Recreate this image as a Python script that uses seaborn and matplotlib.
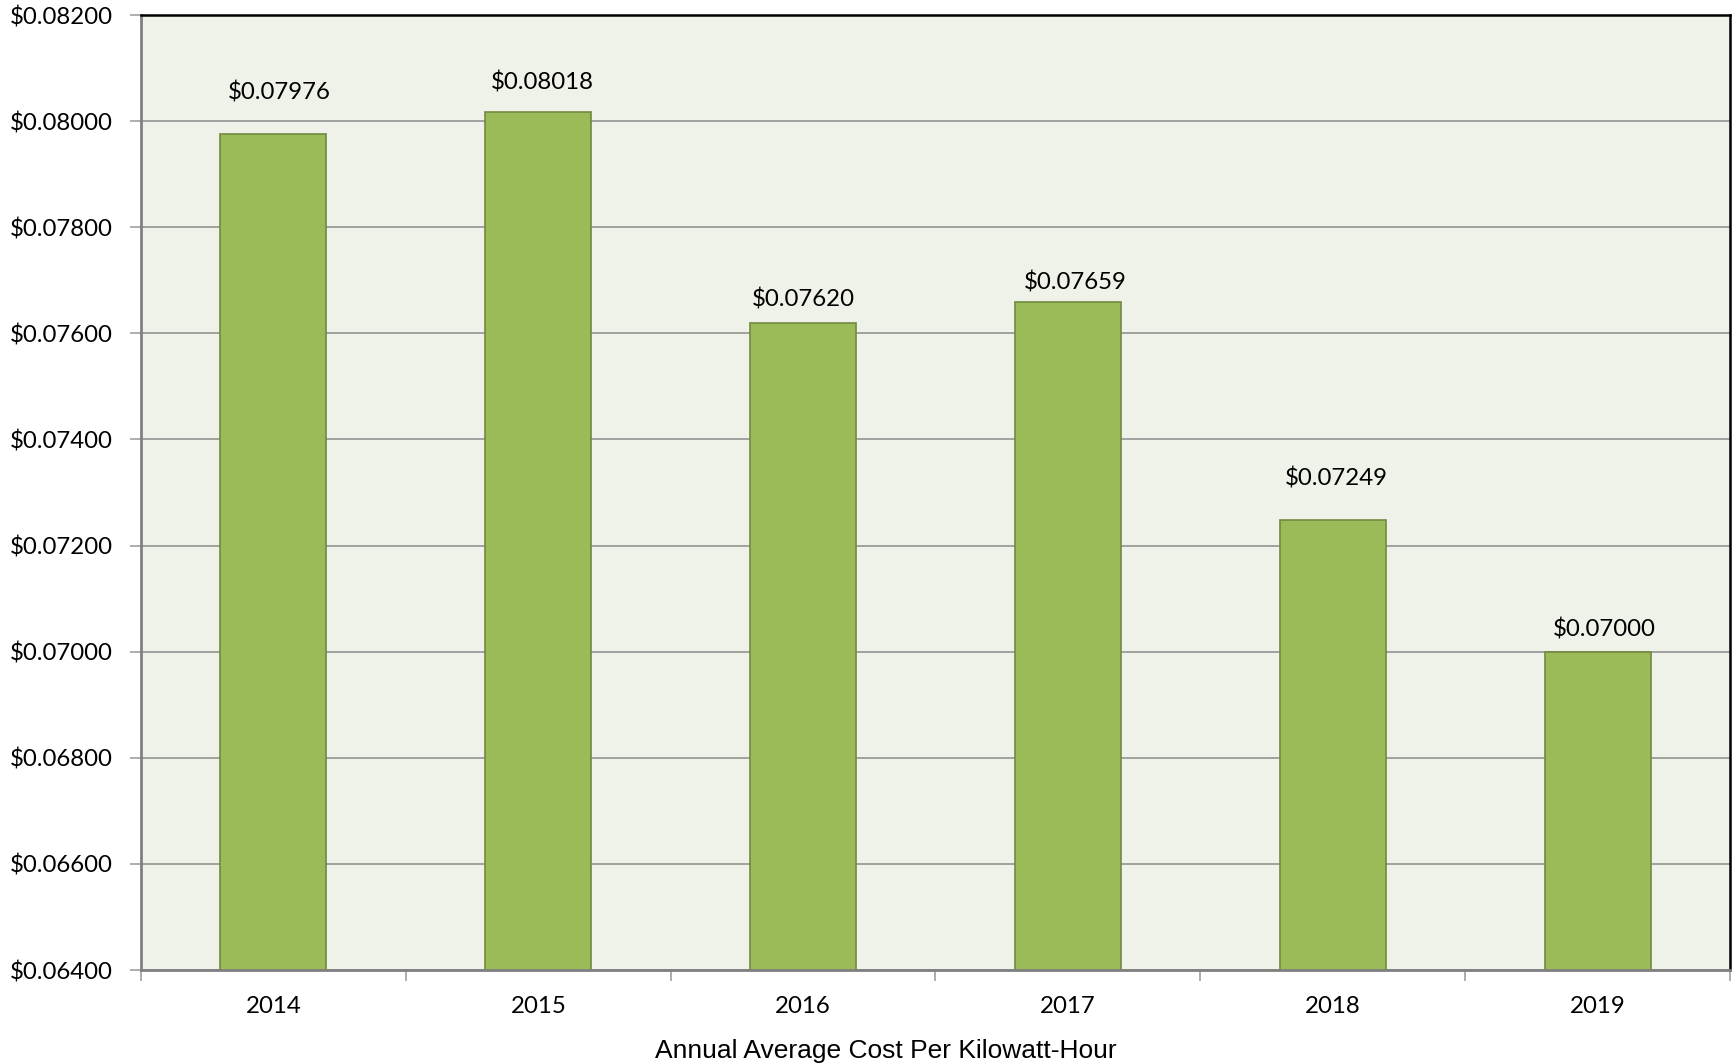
import matplotlib
matplotlib.use("Agg")
import matplotlib.pyplot as plt
import seaborn as sns
import numpy as np
from matplotlib.ticker import FixedLocator, FuncFormatter

# Data
years = ["2014", "2015", "2016", "2017", "2018", "2019"]
cost_per_kwh = [0.07976, 0.08018, 0.07620, 0.07659, 0.07249, 0.07000]
y_ticks = [0.064, 0.066, 0.068, 0.070, 0.072, 0.074, 0.076, 0.078, 0.080, 0.082]

# label nudges (points) -- labels were hand placed in the original
label_dx = [4, 3, 0, 5, 2.5, 5]
label_dy = [22, 12.7, 8.7, 6.3, 21.4, 7.9]

sns.set_theme(style="white")
plt.rcParams["font.family"] = ["Lato", "DejaVu Sans"]
plt.rcParams["text.color"] = "black"

fig = plt.figure(figsize=(17.34, 10.64), dpi=100)
ax = fig.add_axes([141 / 1734, 94 / 1064, 1589 / 1734, 955 / 1064])
ax.set_facecolor("#EFF2E9")

sns.barplot(x=years, y=cost_per_kwh, color="#9BBB59", saturation=1,
            width=0.4, edgecolor="#71893F", linewidth=1.2, ax=ax, zorder=3)

ax.set_ylim(0.064, 0.082)
ax.set_xlim(-0.5, len(years) - 0.5)

# gridlines
ax.yaxis.set_major_locator(FixedLocator(y_ticks))
ax.yaxis.set_major_formatter(FuncFormatter(lambda v, p: f"${v:.5f}"))
ax.grid(axis="y", color="#A0A0A0", linewidth=1.4, zorder=1)
ax.set_axisbelow(True)

# category boundary ticks on x, labels at centres
ax.xaxis.set_major_locator(FixedLocator(np.arange(-0.5, len(years), 1.0)))
ax.xaxis.set_major_formatter(FuncFormatter(lambda v, p: ""))
ax.set_xticks(np.arange(len(years)), labels=years, minor=True)
ax.tick_params(axis="x", which="major", direction="out", length=8, width=1.2,
               color="#A0A0A0", bottom=True)
ax.tick_params(axis="x", which="minor", length=0, pad=19, labelsize=17.3,
               labelcolor="black")
ax.tick_params(axis="y", direction="out", length=8, width=1.2, color="#A0A0A0",
               left=True, pad=12.5, labelsize=17.3, labelcolor="black")

for side in ["left", "bottom"]:
    ax.spines[side].set_color("#808080")
    ax.spines[side].set_linewidth(2)
for side in ["top", "right"]:
    ax.spines[side].set_color("#000000")
    ax.spines[side].set_linewidth(1.8)
for s in ax.spines.values():
    s.set_zorder(5)

# value labels
for i, v in enumerate(cost_per_kwh):
    ax.annotate(f"${v:.5f}", (i, v), xytext=(label_dx[i], label_dy[i]),
                textcoords="offset points", ha="center", va="bottom",
                fontsize=17.3, color="black")

ax.set_xlabel("Annual Average Cost Per Kilowatt-Hour", fontsize=19,
              family=["Liberation Sans", "DejaVu Sans"], color="black")
ax.xaxis.set_label_coords(0.469, -0.0725)
ax.set_ylabel("")

fig.savefig("out.png", dpi=100)
